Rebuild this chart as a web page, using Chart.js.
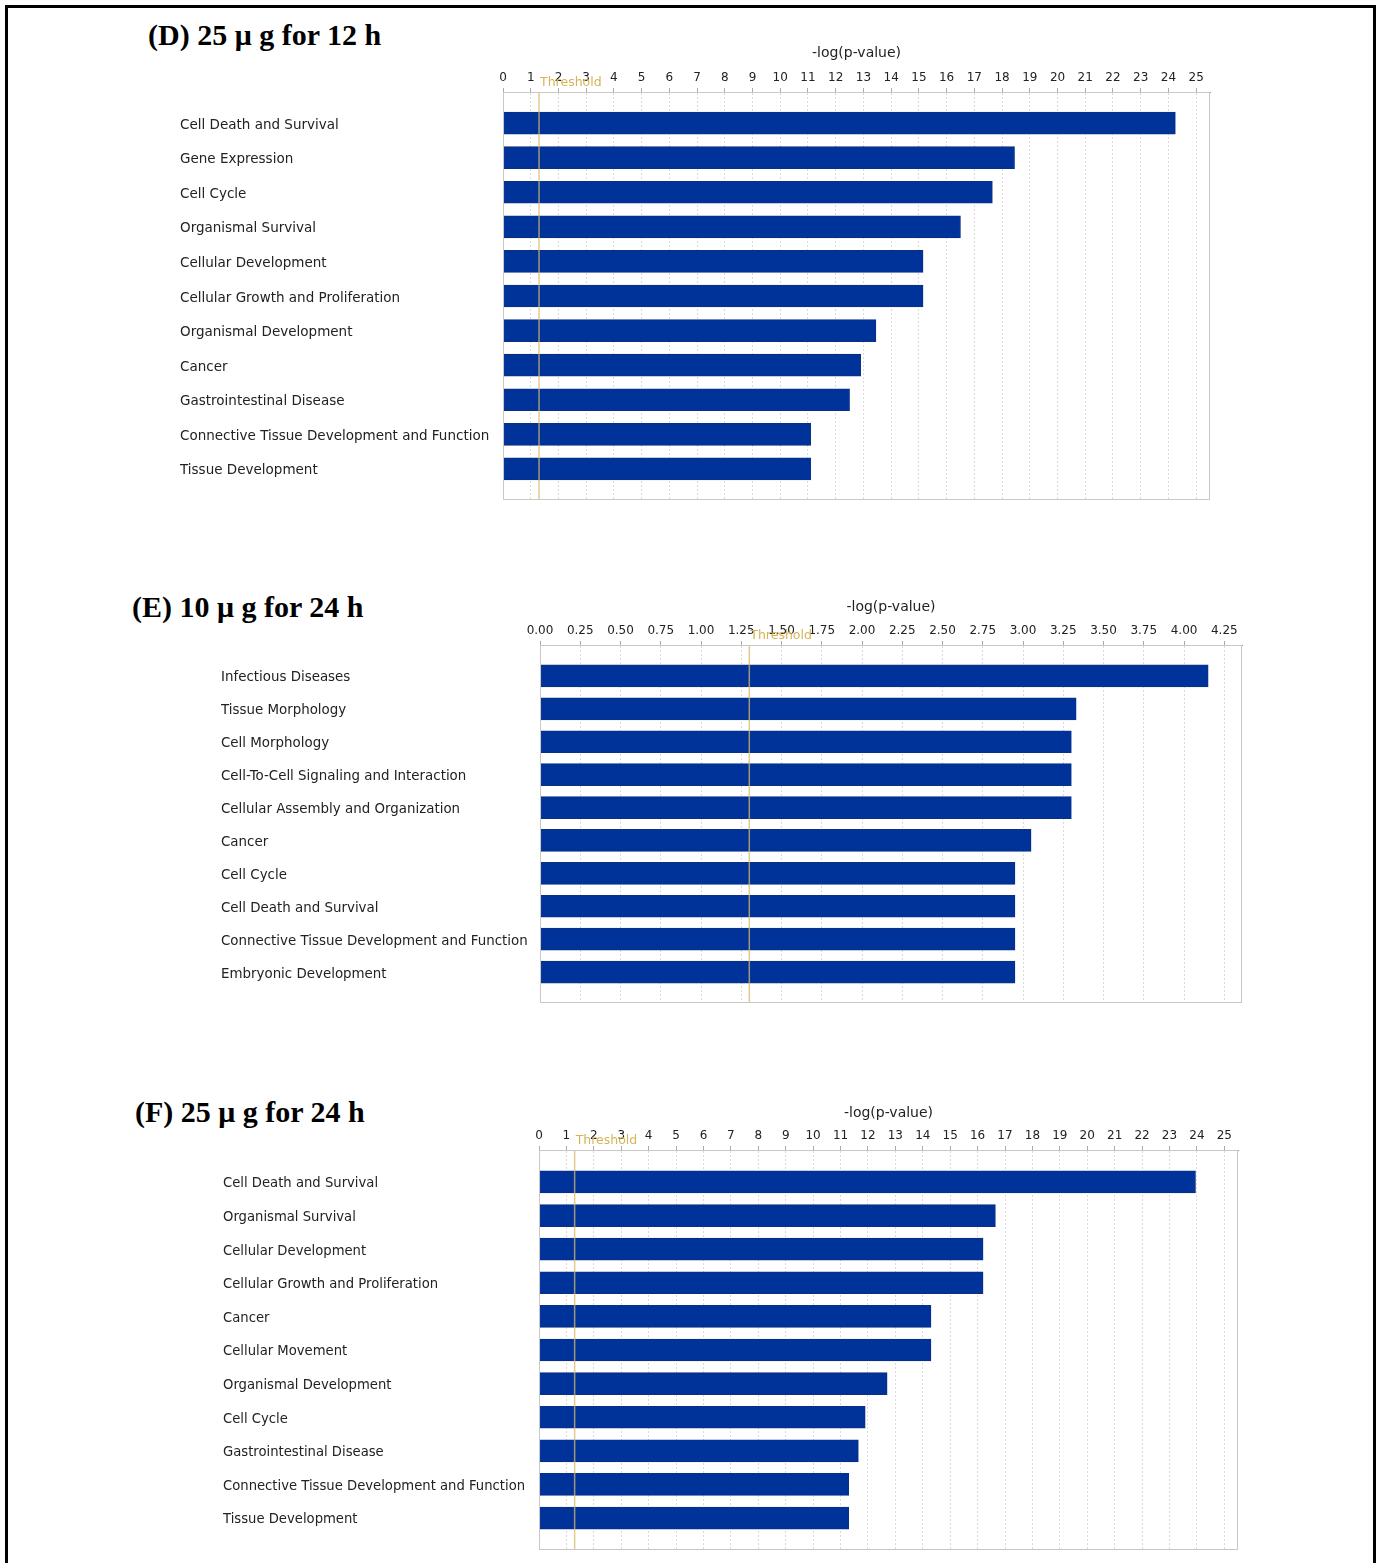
<!DOCTYPE html>
<html>
<head>
<meta charset="utf-8">
<script src="https://cdn.jsdelivr.net/npm/chart.js@4.4.0/dist/chart.umd.min.js"></script>
<style>
  body { margin: 0; background: #fff; width: 1378px; height: 1563px; overflow: hidden; position: relative; }
  #frame { position: absolute; left: 5px; top: 5px; width: 1365px; height: 1600px; border: 3px solid #000; border-bottom: none; }
  .title { position: absolute; font-family: 'Liberation Serif', serif; font-weight: bold; font-size: 30px; line-height: 30px; white-space: nowrap; }
  .box { position: absolute; }
</style>
</head>
<body>
<div id="frame"></div>

<div class="title" style="left:148px; top:20px;">(D) 25 μ g for 12 h</div>
<div class="box" style="left:180px; top:42px;"><canvas id="chartD" width="1060" height="470"></canvas></div>

<div class="title" style="left:132px; top:592px;">(E) 10 μ g for 24 h</div>
<div class="box" style="left:221px; top:596px;"><canvas id="chartE" width="1051" height="419"></canvas></div>

<div class="title" style="left:135px; top:1097px;">(F) 25 μ g for 24 h</div>
<div class="box" style="left:223px; top:1102px;"><canvas id="chartF" width="1045" height="460"></canvas></div>

<script>
const THRESHOLD = 1.3;

const labelsD = ['Cell Death and Survival', 'Gene Expression', 'Cell Cycle', 'Organismal Survival',
    'Cellular Development', 'Cellular Growth and Proliferation', 'Organismal Development', 'Cancer',
    'Gastrointestinal Disease', 'Connective Tissue Development and Function', 'Tissue Development'];
const valuesD = [24.25, 18.45, 17.65, 16.5, 15.15, 15.15, 13.45, 12.9, 12.5, 11.1, 11.1];
const ticksD = [0, 1, 2, 3, 4, 5, 6, 7, 8, 9, 10, 11, 12, 13, 14, 15, 16, 17, 18, 19, 20, 21, 22, 23, 24, 25];

const labelsE = ['Infectious Diseases', 'Tissue Morphology', 'Cell Morphology', 'Cell-To-Cell Signaling and Interaction',
    'Cellular Assembly and Organization', 'Cancer', 'Cell Cycle', 'Cell Death and Survival',
    'Connective Tissue Development and Function', 'Embryonic Development'];
const valuesE = [4.15, 3.33, 3.30, 3.30, 3.30, 3.05, 2.95, 2.95, 2.95, 2.95];
const ticksE = [0, 0.25, 0.5, 0.75, 1, 1.25, 1.5, 1.75, 2, 2.25, 2.5, 2.75, 3, 3.25, 3.5, 3.75, 4, 4.25];

const labelsF = ['Cell Death and Survival', 'Organismal Survival', 'Cellular Development', 'Cellular Growth and Proliferation',
    'Cancer', 'Cellular Movement', 'Organismal Development', 'Cell Cycle', 'Gastrointestinal Disease',
    'Connective Tissue Development and Function', 'Tissue Development'];
const valuesF = [23.95, 16.65, 16.2, 16.2, 14.3, 14.3, 12.7, 11.9, 11.65, 11.3, 11.3];
const ticksF = [0, 1, 2, 3, 4, 5, 6, 7, 8, 9, 10, 11, 12, 13, 14, 15, 16, 17, 18, 19, 20, 21, 22, 23, 24, 25];

const FONT = 'DejaVu Sans';

// threshold line, its label and the light frame round the plot
const thresholdPlugin = {
    id: 'threshold',
    afterDatasetsDraw(chart) {
        const ctx = chart.ctx;
        const a = chart.chartArea;
        const px = chart.scales.x.getPixelForValue(THRESHOLD);
        ctx.save();
        ctx.strokeStyle = 'rgba(214, 186, 110, 0.75)';
        ctx.lineWidth = 1.5;
        ctx.beginPath();
        ctx.moveTo(px, a.top);
        ctx.lineTo(px, a.bottom);
        ctx.stroke();

        ctx.fillStyle = '#d6b456';
        ctx.font = '12.5px "' + FONT + '"';
        ctx.textBaseline = 'middle';
        ctx.fillText('Threshold', px + 1, a.top - 9);

        ctx.strokeStyle = '#c8c8c8';
        ctx.lineWidth = 1;
        ctx.strokeRect(a.left + 0.5, a.top + 0.5, a.right - a.left - 1, a.bottom - a.top - 1);
        ctx.restore();
    }
};

function makeChart(id, labels, values, ticks, cfg) {
    const ctx = document.getElementById(id).getContext('2d');
    return new Chart(ctx, {
        type: 'bar',
        data: {
            datasets: [{
                data: values.map((v, i) => ({ x: v, y: i })),
                backgroundColor: '#003399',
                borderColor: '#0a2f85',
                borderWidth: 1,
                borderSkipped: false,
                barThickness: 22
            }]
        },
        options: {
            indexAxis: 'y',
            responsive: false,
            animation: false,
            layout: { padding: { left: 0, right: 30, top: 0, bottom: 12 } },
            plugins: { legend: { display: false }, tooltip: { enabled: false } },
            scales: {
                x: {
                    type: 'linear',
                    position: 'top',
                    min: 0,
                    max: cfg.xMax,
                    afterBuildTicks: function (s) { s.ticks = ticks.map(v => ({ value: v })); },
                    afterFit: function (s) { s.height = cfg.axisH; },
                    ticks: {
                        font: { family: FONT, size: 12 },
                        color: '#222',
                        padding: 3,
                        maxRotation: 0,
                        autoSkip: false,
                        callback: v => v.toFixed(cfg.decimals)
                    },
                    grid: { color: '#d9d9d9', tickLength: 4, tickColor: '#aaa' },
                    border: { display: true, color: '#999', dash: [2, 2] },
                    title: {
                        display: true,
                        text: '-log(p-value)',
                        font: { family: FONT, size: 14 },
                        color: '#222',
                        padding: { top: 3, bottom: 2 }
                    }
                },
                y: {
                    type: 'linear',
                    reverse: true,
                    offset: false,
                    min: -cfg.yPad,
                    max: labels.length - 1 + cfg.yPad,
                    afterBuildTicks: function (s) { s.ticks = labels.map((_, i) => ({ value: i })); },
                    afterFit: function (s) { s.width = cfg.axisW; },
                    ticks: {
                        crossAlign: 'far',
                        labelOffset: 2,
                        font: { family: FONT, size: cfg.labelSize },
                        color: '#222',
                        autoSkip: false,
                        callback: v => labels[Math.round(v)]
                    },
                    grid: { display: false, offset: false },
                    border: { display: false }
                }
            }
        },
        plugins: [thresholdPlugin]
    });
}

makeChart('chartD', labelsD, valuesD, ticksD, { xMax: 25.5, yPad: 0.9, axisW: 323, axisH: 50, decimals: 0, labelSize: 13.5 });
makeChart('chartE', labelsE, valuesE, ticksE, { xMax: 4.36, yPad: 0.94, axisW: 319, axisH: 49, decimals: 2, labelSize: 13.4 });
makeChart('chartF', labelsF, valuesF, ticksF, { xMax: 25.5, yPad: 0.95, axisW: 316, axisH: 48, decimals: 0, labelSize: 13.2 });
</script>
</body>
</html>
